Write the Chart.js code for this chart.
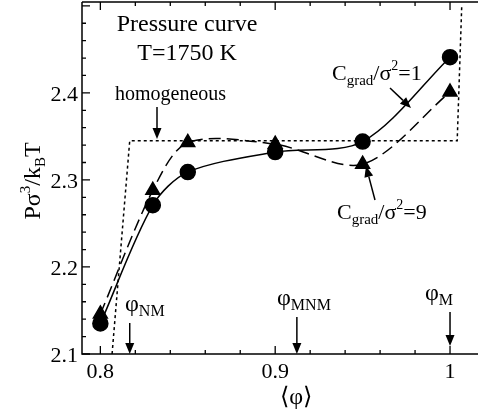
<!DOCTYPE html>
<html lang="en">
<head>
  <meta charset="UTF-8">
  <title>Pressure curve</title>
  <script src="https://cdn.jsdelivr.net/npm/chart.js"></script>
  <style>
    html, body { margin: 0; padding: 0; background: #fff; }
    canvas { display: block; }
  </style>
</head>
<body>
  <canvas id="pressureChart" width="478" height="416"></canvas>

  <script>
    // mean order parameter <phi> and reduced pressure
    const phi = [0.8, 0.83, 0.85, 0.9, 0.95, 1.0];
    const pressureC1 = [2.135, 2.271, 2.309, 2.332, 2.344, 2.441];
    const pressureC9 = [2.146, 2.288, 2.343, 2.341, 2.318, 2.401];

    // homogeneous (no gradient term) curve
    const homPhi = [0.8067, 0.8168, 1.0041, 1.0067];
    const homPressure = [2.1, 2.345, 2.345, 2.5];

    const xTicks = [0.8, 0.9, 1];
    const xTickLabels = ['0.8', '0.9', '1'];
    const yTicks = [2.1, 2.2, 2.3, 2.4];
    const yTickLabels = ['2.1', '2.2', '2.3', '2.4'];

    // characteristic phi values marked with arrows on the axis
    const phiMarks = [0.8168, 0.9124, 1.0];
    const phiMarkNames = ['NM', 'MNM', 'M'];

    const SERIF = '"Liberation Serif", "Times New Roman", "DejaVu Serif", serif';
    const pts = (xs, ys) => xs.map((x, i) => ({ x: x, y: ys[i] }));

    // text with sub/superscripts: parts = [text, size, dy]
    function richText(ctx, parts, x, y, align) {
      let w = 0;
      parts.forEach(p => { ctx.font = p[1] + 'px ' + SERIF; w += ctx.measureText(p[0]).width; });
      let cx = align === 'center' ? x - w / 2 : x;
      ctx.textAlign = 'left';
      ctx.textBaseline = 'alphabetic';
      parts.forEach(p => {
        ctx.font = p[1] + 'px ' + SERIF;
        ctx.fillText(p[0], cx, y + (p[2] || 0));
        cx += ctx.measureText(p[0]).width;
      });
    }

    function arrow(ctx, x1, y1, x2, y2) {
      const a = Math.atan2(y2 - y1, x2 - x1);
      const len = 11, half = 4.5;
      ctx.beginPath();
      ctx.moveTo(x1, y1);
      ctx.lineTo(x2 - Math.cos(a) * len, y2 - Math.sin(a) * len);
      ctx.stroke();
      ctx.beginPath();
      ctx.moveTo(x2, y2);
      ctx.lineTo(x2 - Math.cos(a) * len - Math.sin(a) * half, y2 - Math.sin(a) * len + Math.cos(a) * half);
      ctx.lineTo(x2 - Math.cos(a) * len + Math.sin(a) * half, y2 - Math.sin(a) * len - Math.cos(a) * half);
      ctx.closePath();
      ctx.fill();
    }

    // frame, inward ticks, tick labels and annotations
    const framePlugin = {
      id: 'frame',
      afterDraw(chart) {
        const ctx = chart.ctx;
        const { left, right, top, bottom } = chart.chartArea;
        const xs = chart.scales.x, ys = chart.scales.y;
        ctx.save();
        ctx.strokeStyle = '#000';
        ctx.fillStyle = '#000';
        ctx.lineWidth = 1.5;

        ctx.beginPath();
        ctx.moveTo(left, top);
        ctx.lineTo(left, bottom);
        ctx.lineTo(right, bottom);
        ctx.moveTo(left, top);
        ctx.lineTo(right, top);
        ctx.stroke();

        ctx.lineWidth = 1.3;
        ctx.beginPath();
        for (let v = 0.8; v <= xs.max + 1e-9; v += 0.02) {
          const major = Math.abs(v * 10 - Math.round(v * 10)) < 1e-6;
          const px = xs.getPixelForValue(v);
          const len = major ? 8 : 4;
          ctx.moveTo(px, bottom); ctx.lineTo(px, bottom - len);
          ctx.moveTo(px, top); ctx.lineTo(px, top + len);
        }
        for (let v = 2.1; v <= ys.max + 1e-9; v += 0.02) {
          const major = Math.abs(v * 10 - Math.round(v * 10)) < 1e-6;
          const py = ys.getPixelForValue(v);
          ctx.moveTo(left, py); ctx.lineTo(left + (major ? 8 : 4), py);
        }
        ctx.stroke();

        ctx.font = '22px ' + SERIF;
        ctx.textAlign = 'center';
        ctx.textBaseline = 'alphabetic';
        xTicks.forEach((v, i) => ctx.fillText(xTickLabels[i], xs.getPixelForValue(v), bottom + 24));
        ctx.textAlign = 'right';
        yTicks.forEach((v, i) => ctx.fillText(yTickLabels[i], left - 4, ys.getPixelForValue(v) + 8));

        // axis titles
        richText(ctx, [['\u27E8\u03C6\u27E9', 24]], xs.getPixelForValue(0.9) + 21, bottom + 50, 'center');
        ctx.save();
        ctx.translate(40, 181);
        ctx.rotate(-Math.PI / 2);
        richText(ctx, [['P\u03C3', 24], ['3', 15, -10], ['/k', 24], ['B', 15, 5], ['T', 24]], 0, 0, 'center');
        ctx.restore();

        // title
        richText(ctx, [['Pressure curve', 24]], 187, 31, 'center');
        richText(ctx, [['T=1750 K', 24]], 187, 60, 'center');

        // curve labels
        richText(ctx, [['homogeneous', 20]], 115, 100);
        ctx.lineWidth = 1.5;
        arrow(ctx, 157, 107, 157, ys.getPixelForValue(2.347));

        richText(ctx, [['C', 22], ['grad', 15, 5], ['/\u03C3', 22], ['2', 14, -10], ['=1', 22]], 332, 80);
        arrow(ctx, 390, 88, 411, 108);

        richText(ctx, [['C', 22], ['grad', 15, 5], ['/\u03C3', 22], ['2', 14, -10], ['=9', 22]], 337, 219);
        arrow(ctx, 375, 200, 366, 166);

        // phi markers
        const lab = [[125, 311], [277, 305], [425, 300]];
        const tip = [bottom, bottom, bottom - 8];
        phiMarks.forEach((v, i) => {
          const px = xs.getPixelForValue(v);
          richText(ctx, [['\u03C6', 24], [phiMarkNames[i], 16, 5]], lab[i][0], lab[i][1]);
          arrow(ctx, px, lab[i][1] + 12, px, tip[i]);
        });

        ctx.restore();
      }
    };

    new Chart(document.getElementById('pressureChart'), {
      type: 'scatter',
      data: {
        datasets: [
          {
            label: 'homogeneous',
            data: pts(homPhi, homPressure),
            showLine: true,
            borderColor: '#000',
            borderWidth: 1.5,
            borderDash: [3, 3],
            pointRadius: 0,
            tension: 0
          },
          {
            label: 'Cgrad/sigma^2=9',
            data: pts(phi, pressureC9),
            showLine: true,
            borderColor: '#000',
            borderWidth: 1.5,
            borderDash: [12, 6],
            tension: 0.3,
            pointStyle: 'triangle',
            pointRadius: 8,
            backgroundColor: '#000'
          },
          {
            label: 'Cgrad/sigma^2=1',
            data: pts(phi, pressureC1),
            showLine: true,
            borderColor: '#000',
            borderWidth: 1.5,
            tension: 0.3,
            pointStyle: 'circle',
            pointRadius: 7.5,
            backgroundColor: '#000'
          }
        ]
      },
      options: {
        responsive: false,
        animation: false,
        devicePixelRatio: 1,
        layout: { autoPadding: false, padding: { left: 82, right: 0, top: 2, bottom: 62 } },
        plugins: { legend: { display: false }, tooltip: { enabled: false } },
        scales: {
          x: { type: 'linear', min: 0.7895, max: 1.016, display: false },
          y: { type: 'linear', min: 2.1, max: 2.5044, display: false }
        }
      },
      plugins: [framePlugin]
    });
  </script>
</body>
</html>
